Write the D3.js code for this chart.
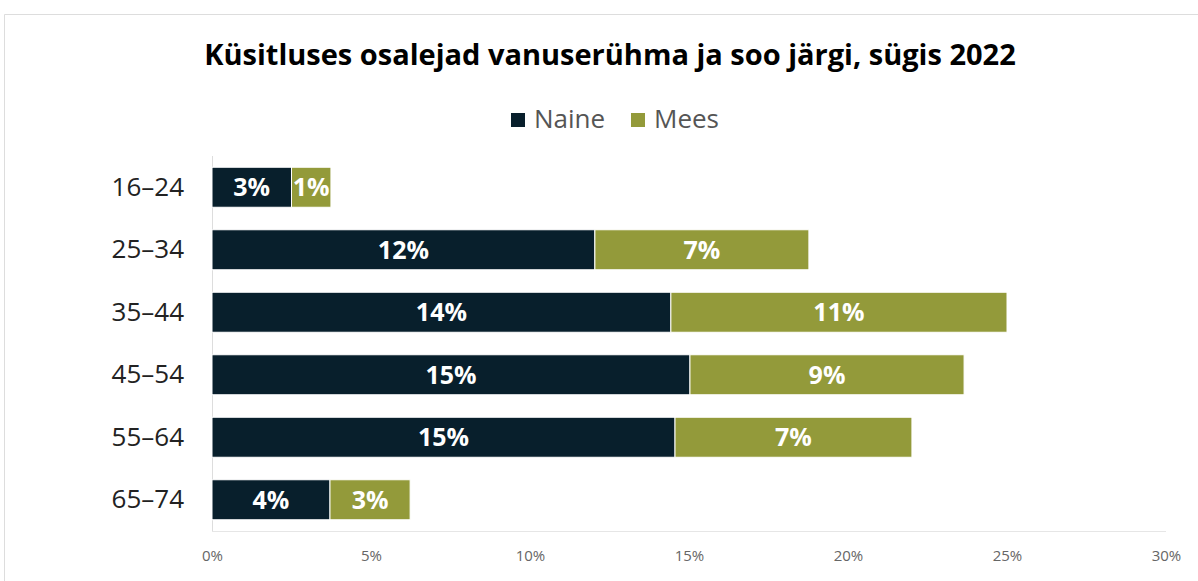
<!DOCTYPE html>
<html><head><meta charset="utf-8">
<script src="https://cdn.jsdelivr.net/npm/d3@7/dist/d3.min.js"></script>
<style>body{margin:0;background:#fff;font-family:"Open Sans",sans-serif}</style>
</head><body><svg id="c" width="1198" height="581"></svg>
<script>
const categories = ["16–24","25–34","35–44","45–54","55–64","65–74"];
const naine = [2.5, 12.04, 14.43, 15.03, 14.56, 3.71];
const mees = [1.24, 6.73, 10.57, 8.62, 7.45, 2.52];
const seriesNames = ["Naine","Mees"];
const colors = ["#081f2c","#939a3a"];
const xTicks = [0,5,10,15,20,25,30];
const title = "Küsitluses osalejad vanuserühma ja soo järgi, sügis 2022";

const svg = d3.select("#c");
svg.append("path").attr("d","M4.5,581 L4.5,14.5 L1198,14.5").attr("fill","none").attr("stroke","#ddd").attr("stroke-width",1);

const x = d3.scaleLinear().domain([0,30]).range([212,1166]);
const y = d3.scaleBand().domain(categories).range([156,531]).paddingInner(0.36).paddingOuter(0.18);

svg.append("text").attr("x",610).attr("y",65).attr("text-anchor","middle")
  .attr("font-size",29).attr("font-weight","bold").attr("fill","#000").text(title);

const leg = [{x:511,tx:534},{x:631,tx:654}];
seriesNames.forEach((n,i)=>{
  svg.append("rect").attr("x",leg[i].x).attr("y",113).attr("width",14).attr("height",14).attr("fill",colors[i]);
  svg.append("text").attr("x",leg[i].tx).attr("y",128).attr("font-size",26).attr("fill","#555").text(n);
});

svg.append("line").attr("x1",212.5).attr("x2",212.5).attr("y1",156).attr("y2",531).attr("stroke","#ddd");
svg.append("line").attr("x1",212).attr("x2",1166).attr("y1",531.5).attr("y2",531.5).attr("stroke","#e6e6e6");

const xAxis = d3.axisBottom(x).tickValues(xTicks).tickFormat(d=>d+"%").tickSize(0).tickPadding(0);
const gx = svg.append("g").attr("transform","translate(0,550)").call(xAxis);
gx.select(".domain").remove();
gx.selectAll("text").attr("font-size",15).attr("fill","#666").attr("font-family","Open Sans");

const yAxis = d3.axisLeft(y).tickSize(0).tickPadding(28);
const gy = svg.append("g").attr("transform","translate(212,0)").call(yAxis);
gy.select(".domain").remove();
gy.selectAll("text").attr("font-size",26).attr("fill","#222").attr("font-family","Open Sans");

const stacked = categories.map((c,i)=>({c, segs:[{v:naine[i],x0:0,x1:naine[i],s:0},{v:mees[i],x0:naine[i],x1:naine[i]+mees[i],s:1}]}));
const g = svg.append("g");
stacked.forEach(d=>{
  d.segs.forEach(s=>{
    g.append("rect").attr("x",x(s.x0)).attr("y",y(d.c)).attr("width",x(s.x1)-x(s.x0)).attr("height",y.bandwidth())
      .attr("fill",colors[s.s]).attr("stroke","#fff").attr("stroke-width",1);
    g.append("text").attr("x",(x(s.x0)+x(s.x1))/2).attr("y",y(d.c)+y.bandwidth()/2+9)
      .attr("text-anchor","middle").attr("font-size",25).attr("font-weight","bold").attr("fill","#fff")
      .text(Math.round(s.v)+"%");
  });
});
</script></body></html>
